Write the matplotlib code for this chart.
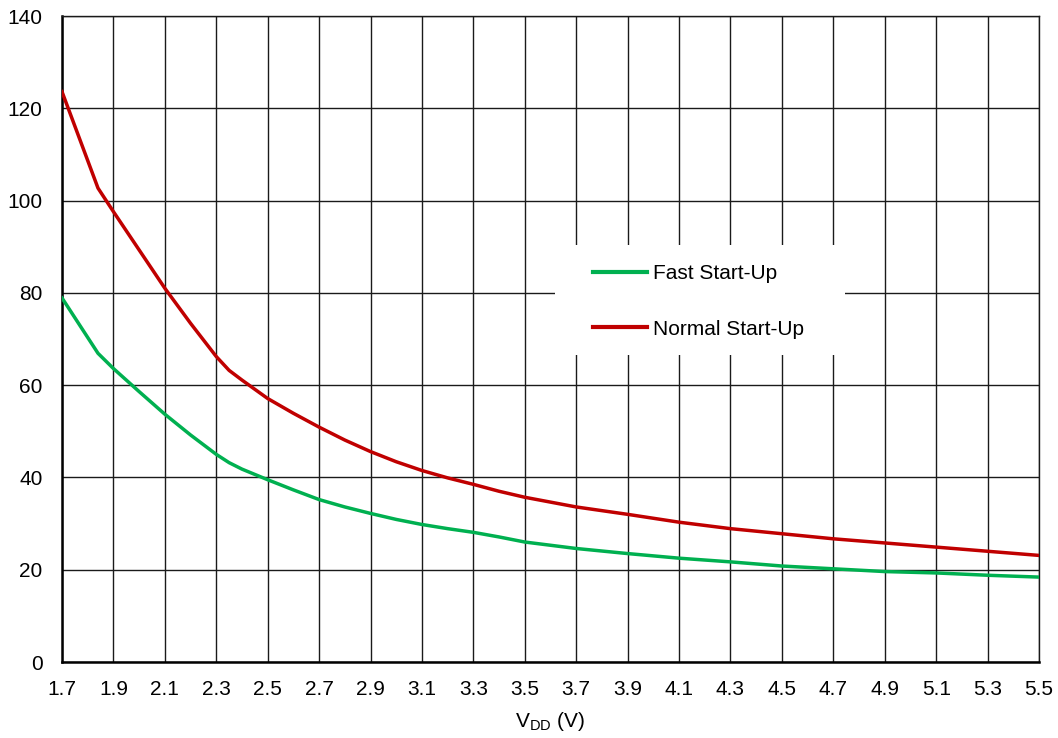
import matplotlib
matplotlib.use("Agg")
import matplotlib.pyplot as plt
from matplotlib.patches import Rectangle

plt.rcParams['font.family'] = ['Liberation Sans', 'DejaVu Sans']
plt.rcParams['mathtext.fontset'] = 'custom'
plt.rcParams['mathtext.rm'] = 'Liberation Sans'

vdd = [1.7, 1.84, 1.9, 2.0, 2.1, 2.2, 2.3, 2.35, 2.4, 2.5, 2.6, 2.7, 2.8, 2.9, 3.0, 3.1, 3.2, 3.3, 3.4,
       3.5, 3.7, 3.9, 4.1, 4.3, 4.5, 4.7, 4.9, 5.1, 5.3, 5.5]
normal = [123.6, 102.7, 97.6, 89.3, 81.0, 73.4, 66.2, 63.2, 61.1, 57.1, 53.9, 50.9, 48.1, 45.6, 43.4, 41.5, 39.9, 38.5, 37.0,
          35.7, 33.6, 32.0, 30.3, 28.9, 27.8, 26.7, 25.8, 24.9, 24.0, 23.1]
fast = [78.9, 66.9, 63.6, 58.6, 53.7, 49.2, 45.0, 43.2, 41.8, 39.5, 37.3, 35.2, 33.6, 32.2, 30.9, 29.8, 28.9, 28.1, 27.1,
        26.0, 24.6, 23.5, 22.5, 21.7, 20.8, 20.2, 19.6, 19.3, 18.8, 18.4]
xticks = [1.7, 1.9, 2.1, 2.3, 2.5, 2.7, 2.9, 3.1, 3.3, 3.5, 3.7, 3.9, 4.1, 4.3, 4.5, 4.7, 4.9, 5.1, 5.3, 5.5]
yticks = [0, 20, 40, 60, 80, 100, 120, 140]

fig = plt.figure(figsize=(10.58, 7.38), dpi=100)
ax = fig.add_axes([62/1058, 1-662/738, (1039-62)/1058, (662-16)/738])

ax.plot(vdd, fast, color='#00B050', lw=2.5, label='Fast Start-Up', zorder=3)
ax.plot(vdd, normal, color='#C00000', lw=2.5, label='Normal Start-Up', zorder=3)

ax.set_xlim(1.7, 5.5)
ax.set_ylim(0, 140)
ax.set_xticks(xticks)
ax.set_xticklabels([f"{t:.1f}" for t in xticks])
ax.set_yticks(yticks)
ax.tick_params(axis='x', length=0, labelsize=15, pad=13)
ax.tick_params(axis='y', length=0, labelsize=15, pad=14)
ax.grid(True, color='#1a1a1a', lw=1.0, zorder=1)
ax.set_axisbelow(True)
for s in ['top', 'right']:
    ax.spines[s].set_color('#1a1a1a')
    ax.spines[s].set_linewidth(1.0)
for s in ['left', 'bottom']:
    ax.spines[s].set_color('black')
    ax.spines[s].set_linewidth(1.8)

ax.set_xlabel(r'V$_{\mathregular{DD}}$ (V)', fontsize=15, labelpad=8)

ax.add_patch(Rectangle((0.505, 0.475), 0.296, 0.171, transform=ax.transAxes,
                       facecolor='white', edgecolor='none', zorder=4))
leg = ax.legend(loc='upper left', bbox_to_anchor=(0.5435, 0.616), fontsize=15,
                frameon=False, handlelength=2.6, handletextpad=0.3, labelspacing=1.75,
                borderpad=0, borderaxespad=0)
for l in leg.get_lines():
    l.set_linewidth(3)
leg.set_zorder(5)

fig.savefig('out.png', dpi=100)
